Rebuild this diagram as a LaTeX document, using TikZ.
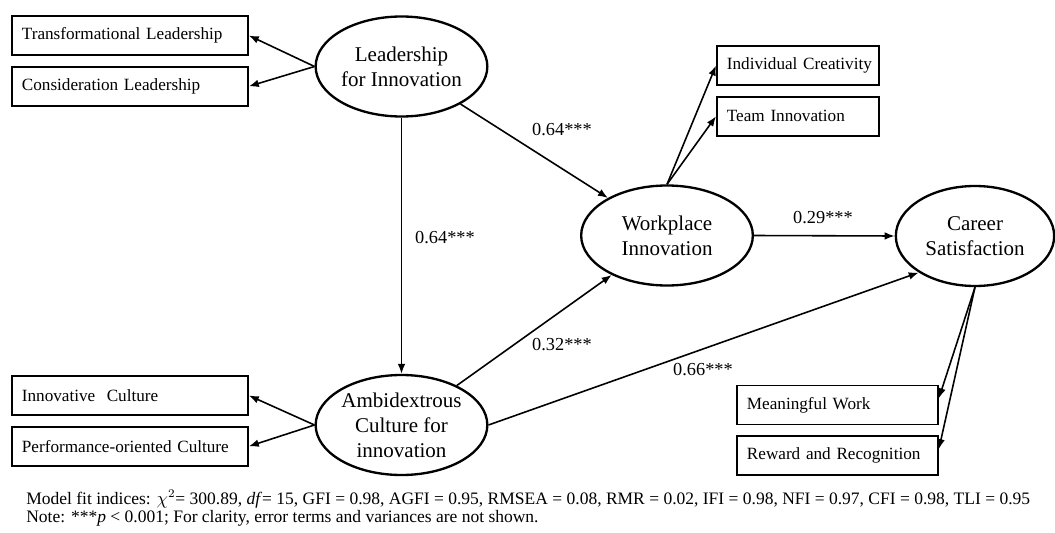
\documentclass[tikz,border=0pt]{standalone}
\usepackage{fontspec}
\setmainfont{Liberation Serif}
\usepackage{tikz}
\usetikzlibrary{positioning, arrows.meta, shapes.geometric}
\newcommand{\nohyph}{\hyphenpenalty=10000\relax\exhyphenpenalty=10000\relax}
\tikzset{
    latent/.style={ellipse, draw, line width=1.4pt, minimum width=103pt, minimum height=60pt, inner sep=0pt, align=center, font=\fontsize{12.6}{15}\selectfont},
    obsbox/.style={draw, line width=1.1pt, minimum height=23.4pt, inner xsep=6pt, inner ysep=0pt, align=left, anchor=west, font=\fontsize{10.3}{12}\selectfont, execute at begin node=\nohyph},
    arr/.style={-{Latex[length=6pt, width=4.6pt]}, line width=0.95pt},
    coef/.style={font=\fontsize{11}{13}\selectfont},
    fitnote/.style={anchor=base west, inner sep=0pt, font=\fontsize{10.5}{11}\selectfont}
}

\begin{document}
\begin{tikzpicture}[x=0.6pt, y=-0.6pt]
    \useasboundingbox (0,0) rectangle (1055,532);

    % latent constructs
    \node[latent] (lead) at (401.5,66.5) {Leadership\\for Innovation};
    \node[latent] (ambi) at (401.5,425) {Ambidextrous\\Culture for\\innovation};
    \node[latent] (work) at (667,235.5) {Workplace\\Innovation};
    \node[latent, minimum width=95pt] (career) at (975,236) {Career\\Satisfaction};

    % observed indicators
    \node[obsbox, text width=129.6pt] (trans) at (11,35.5) {Transformational~Leadership};
    \node[obsbox, text width=129.6pt, below=6pt of trans] (consid) {Consideration~Leadership};
    \node[obsbox, text width=129.6pt] (innov) at (11,395.5) {Innovative~~Culture};
    \node[obsbox, text width=129.6pt, below=6pt of innov] (perf) {Performance-oriented~Culture};
    \node[obsbox, text width=85.2pt] (indiv) at (716,65.5) {Individual~Creativity};
    \node[obsbox, text width=85.2pt, below=6pt of indiv] (team) {Team~Innovation};
    \node[obsbox, text width=108.6pt] (mean) at (736,405) {Meaningful~Work};
    \node[obsbox, text width=108.6pt, below=6pt of mean] (reward) {Reward~and~Recognition};

    % measurement arrows
    \draw[arr] (lead.west) -- (trans.east);
    \draw[arr] (lead.west) -- (consid.east);
    \draw[arr] (ambi.west) -- (innov.east);
    \draw[arr] (ambi.west) -- (perf.east);
    \draw[arr] (work.north) -- (indiv.west);
    \draw[arr] (work.north) -- (team.west);
    \draw[arr] (career.south) -- ([yshift=4pt]mean.east);
    \draw[arr] (career.south) -- ([yshift=4pt]reward.east);

    % structural paths
    \draw[arr] (lead) -- (work);
    \draw[arr] (lead) -- (ambi);
    \draw[arr] (ambi) -- (work);
    \draw[arr] (ambi.east) -- (career.213);
    \draw[arr] (work.east) -- (career.west);

    % path coefficients
    \node[coef] (c1) at (562,130) {0.64***};
    \node[coef] (c2) at (445,238) {0.64***};
    \node[coef] (c3) at (562,345) {0.32***};
    \node[coef] (c4) at (703,370) {0.66***};
    \node[coef] (c5) at (823,218) {0.29***};

    % fit indices
    \node[fitnote] (fit) at (26,504) {Model fit indices: $\chi^2$= 300.89, \textit{df}= 15, GFI = 0.98, AGFI = 0.95, RMSEA = 0.08, RMR = 0.02, IFI = 0.98, NFI = 0.97, CFI = 0.98, TLI = 0.95};
    \node[fitnote] (note) at (26,522) {Note: ***\textit{p} < 0.001; For clarity, error terms and variances are not shown.};
\end{tikzpicture}
\end{document}
